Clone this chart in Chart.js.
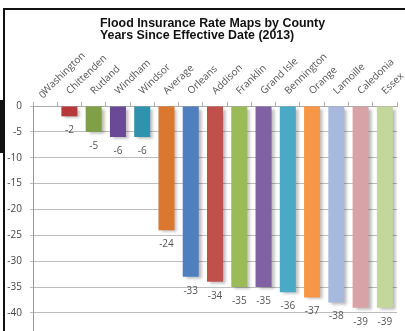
<!DOCTYPE html>
<html>
<head>
<meta charset="utf-8">
<script src="https://cdn.jsdelivr.net/npm/chart.js@4.4.1/dist/chart.umd.min.js"></script>
<style>
  html, body { margin: 0; padding: 0; background: #fff; }
  #wrap { position: relative; width: 405px; height: 331px; overflow: hidden; }
  #frame { position: absolute; left: 3px; top: 8px; width: 405px; height: 330px;
           border-top: 2px solid #111; border-left: 2px solid #111; }
  #notch { position: absolute; left: 0; top: 100px; width: 4px; height: 53px; background: #111; }
  #title { position: absolute; left: 100px; top: 17px; font: bold 12.4px "Liberation Sans", Arial, sans-serif;
           line-height: 12px; color: #111; }
  canvas { position: absolute; left: 0; top: 0; }
</style>
</head>
<body>
<div id="wrap">
  <div id="frame"></div>
  <div id="notch"></div>
  <canvas id="chart" width="405" height="331"></canvas>
  <div id="title">Flood Insurance Rate Maps by County<br>Years Since Effective Date (2013)</div>
</div>
<script>
// ── data ──
const counties = ["Washington", "Chittenden", "Rutland", "Windham", "Windsor", "Average",
  "Orleans", "Addison", "Franklin", "Grand Isle", "Bennington", "Orange", "Lamoille", "Caledonia", "Essex"];
const yearsSince = [0, -2, -5, -6, -6, -24, -33, -34, -35, -35, -36, -37, -38, -39, -39];
const barColors = ["#4f81bd", "#b8393a", "#7fa046", "#6b4a95", "#3192ad", "#d9782e",
  "#4f7fbe", "#c1504c", "#9bbb59", "#8062a4", "#4aaac5", "#f79646", "#a7b9dc", "#d8a3a6", "#c3d69b"];
const yTicks = [0, -5, -10, -15, -20, -25, -30, -35, -40];

const ROT = 44;

// ── bar shadows + value labels ──
const valueLabels = {
  id: "valueLabels",
  beforeDatasetsDraw(chart) {
    const ctx = chart.ctx;
    ctx.save();
    ctx.shadowColor = "rgba(0,0,0,0.28)";
    ctx.shadowOffsetX = 3;
    ctx.shadowOffsetY = 2;
    ctx.shadowBlur = 3;
  },
  afterDatasetsDraw(chart) {
    const ctx = chart.ctx;
    ctx.restore();
    ctx.save();
    ctx.font = "10px 'Open Sans', sans-serif";
    ctx.fillStyle = "#555";
    ctx.textAlign = "center";
    ctx.textBaseline = "middle";
    chart.getDatasetMeta(0).data.forEach((bar, i) => {
      const v = yearsSince[i];
      if (v === 0) {
        // Excel put the zero label on top of the category name
        ctx.save();
        ctx.translate(bar.x - 2, chart.chartArea.top - 11);
        ctx.rotate(-ROT * Math.PI / 180);
        ctx.fillText("0", 0, 0);
        ctx.restore();
      } else {
        ctx.fillText(String(v), bar.x, bar.y + 14);
      }
    });
    ctx.restore();
  }
};

new Chart(document.getElementById("chart"), {
  type: "bar",
  data: {
    labels: counties,
    datasets: [{
      data: yearsSince,
      backgroundColor: barColors,
      borderWidth: 0,
      categoryPercentage: 1,
      barPercentage: 0.66
    }]
  },
  options: {
    responsive: false,
    animation: false,
    layout: { padding: { top: 46, right: 8, left: 0, bottom: 0 } },
    plugins: { legend: { display: false }, tooltip: { enabled: false } },
    scales: {
      x: {
        position: "top",
        offset: true,
        grid: { drawOnChartArea: false, tickLength: 4, color: "#aaa" },
        border: { color: "#aaa" },
        ticks: {
          autoSkip: false, minRotation: ROT, maxRotation: ROT, padding: 5, labelOffset: 7,
          color: "#555", font: { family: "'Open Sans', sans-serif", size: 10 }
        },
        afterFit(s) { s.height = 60; s.paddingLeft = 0; s.paddingRight = 0; }
      },
      y: {
        min: -43.5, max: 0,
        ticks: {
          stepSize: 5, padding: 8, color: "#444",
          font: { family: "'Open Sans', sans-serif", size: 10 },
          callback: v => yTicks.includes(v) ? v : ""
        },
        grid: {
          tickLength: 3,
          color: c => yTicks.includes(c.tick && c.tick.value) ? "#bdbdbd" : "rgba(0,0,0,0)"
        },
        border: { color: "#999" },
        afterFit(s) { s.width = 33; s.paddingTop = 0; s.paddingBottom = 0; }
      }
    }
  },
  plugins: [valueLabels]
});
</script>
</body>
</html>
